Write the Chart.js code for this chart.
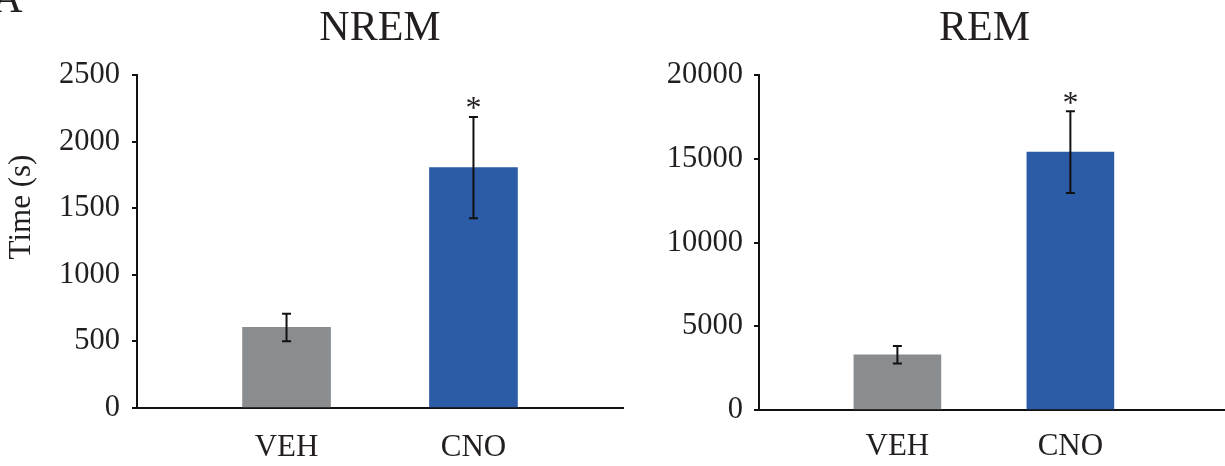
<!DOCTYPE html>
<html>
<head>
<meta charset="utf-8">
<script src="https://cdn.jsdelivr.net/npm/chart.js@4/dist/chart.umd.min.js"></script>
<style>
  html, body { margin: 0; padding: 0; background: #fff; overflow: hidden; width: 1225px; height: 466px; position: relative; }
  canvas { position: absolute; top: 0; }
  #nrem { left: 0; }
  #rem { left: 640px; }
</style>
</head>
<body>
<canvas id="nrem" width="640" height="466" style="width:640px;height:466px"></canvas>
<canvas id="rem" width="689" height="466" style="width:689px;height:466px"></canvas>
<script>
// Group labels and per-group values (mean ± SEM, seconds)
const categories = ['VEH', 'CNO'];
const nremMean = [605, 1805];
const nremSem = [103, 380];
const remMean = [3300, 15400];
const remSem = [520, 2440];
const significant = [false, true];

// Y tick values for each panel
const nremTicks = [0, 500, 1000, 1500, 2000, 2500];
const remTicks = [0, 5000, 10000, 15000, 20000];

const barColors = ['#8a8d8f', '#2c5ba8'];
const ink = '#231f20';
const serif = '"Liberation Serif", "Times New Roman", serif';

Chart.defaults.font.family = serif;
Chart.defaults.color = ink;

// Error bars and significance asterisks drawn from the dataset values
const errorBars = {
  id: 'errorBars',
  afterDatasetsDraw(chart) {
    const ctx = chart.ctx;
    const yScale = chart.scales.y;
    chart.data.datasets.forEach((ds, di) => {
      const meta = chart.getDatasetMeta(di);
      meta.data.forEach((bar, i) => {
        const mean = ds.data[i].y;
        const e = ds.sem[i];
        const top = yScale.getPixelForValue(mean + e);
        const bot = yScale.getPixelForValue(mean - e);
        ctx.save();
        ctx.strokeStyle = '#111';
        ctx.lineWidth = 2;
        ctx.beginPath();
        ctx.moveTo(bar.x, top); ctx.lineTo(bar.x, bot);
        ctx.moveTo(bar.x - 4.5, top); ctx.lineTo(bar.x + 4.5, top);
        ctx.moveTo(bar.x - 4.5, bot); ctx.lineTo(bar.x + 4.5, bot);
        ctx.stroke();
        if (ds.sig[i]) {
          ctx.fillStyle = ink;
          ctx.font = '32px ' + serif;
          ctx.textAlign = 'center';
          ctx.textBaseline = 'alphabetic';
          ctx.fillText('*', bar.x, top + 1.5);
        }
        ctx.restore();
      });
    });
  }
};

// Panel letter and shared y-axis caption on the left panel
const sideText = {
  id: 'sideText',
  afterDraw(chart) {
    const ctx = chart.ctx;
    ctx.save();
    ctx.fillStyle = ink;
    ctx.font = '42px ' + serif;
    ctx.textAlign = 'right';
    ctx.textBaseline = 'alphabetic';
    ctx.fillText('A', 22.5, 12);
    ctx.translate(22, 207);
    ctx.rotate(-Math.PI / 2);
    ctx.font = '31px ' + serif;
    ctx.textAlign = 'center';
    ctx.textBaseline = 'middle';
    ctx.fillText('Time (s)', 0, 0);
    ctx.restore();
  }
};

function makePanel(canvasId, cfg) {
  const data = categories.map((c, i) => ({ x: i + 1, y: cfg.mean[i] }));
  return new Chart(document.getElementById(canvasId), {
    type: 'bar',
    data: {
      datasets: [{
        data: data,
        sem: cfg.sem,
        sig: significant,
        backgroundColor: barColors,
        borderWidth: 0,
        barThickness: cfg.barWidth
      }]
    },
    options: {
      responsive: false,
      animation: false,
      devicePixelRatio: 1,
      layout: { padding: cfg.padding },
      plugins: {
        legend: { display: false },
        tooltip: { enabled: false },
        title: {
          display: true,
          text: cfg.title,
          fullSize: cfg.titleFull,
          color: ink,
          font: { family: serif, size: 42, weight: 'normal', lineHeight: '50px' },
          padding: { top: 4, bottom: 21 }
        }
      },
      scales: {
        x: {
          type: 'linear',
          min: 0.2,
          max: cfg.xMax,
          offset: false,
          grid: { display: false, drawTicks: false, offset: false },
          border: { display: true, color: '#111', width: 2 },
          ticks: {
            padding: cfg.xPad,
            autoSkip: false,
            maxRotation: 0,
            font: { size: 31 },
            color: ink,
            callback: (v) => categories[v - 1]
          },
          afterBuildTicks: (s) => { s.ticks = categories.map((c, i) => ({ value: i + 1 })); },
          afterFit: (s) => { s.height = cfg.xHeight; }
        },
        y: {
          type: 'linear',
          min: cfg.ticks[0],
          max: cfg.ticks[cfg.ticks.length - 1],
          grid: { display: true, drawOnChartArea: false, drawTicks: true, tickLength: 5, color: '#111', lineWidth: 2 },
          border: { display: true, color: '#111', width: 2 },
          ticks: {
            padding: cfg.yPad,
            font: { size: 30.5 },
            color: ink,
            callback: (v) => String(v)
          },
          afterBuildTicks: (s) => { s.ticks = cfg.ticks.map(v => ({ value: v })); },
          afterFit: (s) => { s.width = cfg.yWidth; }
        }
      }
    },
    plugins: cfg.extraPlugins
  });
}

makePanel('nrem', {
  title: 'NREM', titleFull: false,
  mean: nremMean, sem: nremSem, ticks: nremTicks,
  barWidth: 88, xMax: 2.8, xPad: 21, xHeight: 58, yPad: 12, yWidth: 137,
  padding: { left: 0, right: 17, top: 0, bottom: 0 },
  extraPlugins: [errorBars, sideText]
});

makePanel('rem', {
  title: 'REM', titleFull: true,
  mean: remMean, sem: remSem, ticks: remTicks,
  barWidth: 87, xMax: 3.495, xPad: 18.5, xHeight: 56, yPad: 11, yWidth: 119,
  padding: { left: 0, right: 0, top: 0, bottom: 0 },
  extraPlugins: [errorBars]
});
</script>
</body>
</html>
